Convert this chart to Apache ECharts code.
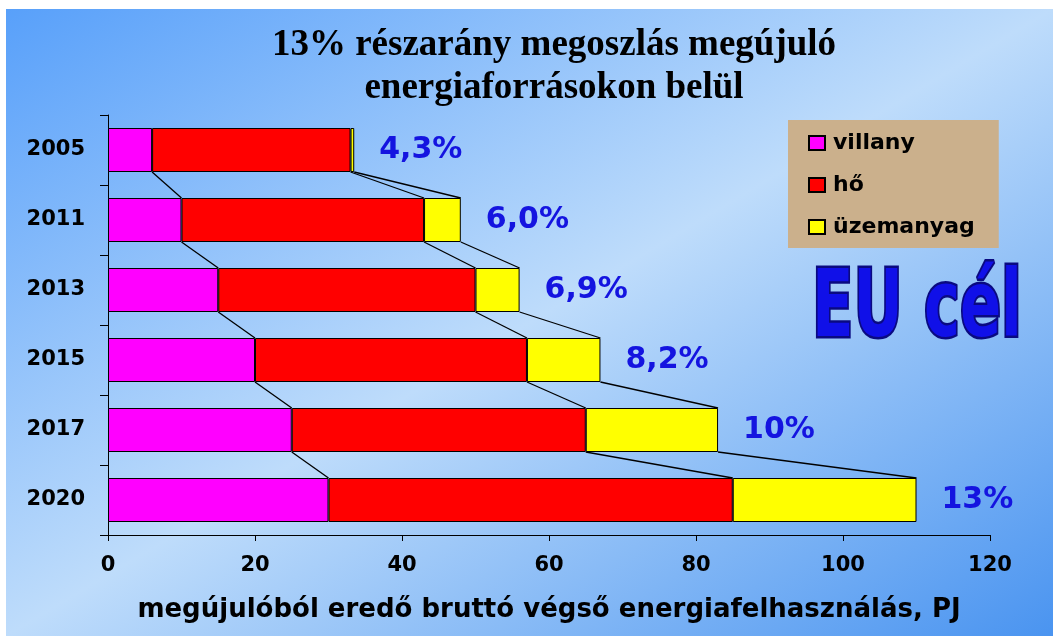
<!DOCTYPE html>
<html>
<head>
<meta charset="utf-8">
<title>13% részarány megoszlás</title>
<script src="https://cdn.jsdelivr.net/npm/echarts@6/dist/echarts.min.js"></script>
<style>
  html, body { margin: 0; padding: 0; background: #fff; }
  #bg {
    position: absolute; left: 6px; top: 9px; width: 1047px; height: 627px;
    background: linear-gradient(to bottom right, #58a0fa 0%, #bedcfb 50%, #4a94f0 100%);
  }
  #chart { position: absolute; left: 0; top: 0; width: 1053px; height: 636px; }
</style>
</head>
<body>
<div id="bg"></div>
<div id="chart"></div>
<script>
// évek (felülről lefelé)
const years = ["2005", "2011", "2013", "2015", "2017", "2020"];
// PJ értékek
const villany = [6, 10, 15, 20, 25, 30];
const ho = [27, 33, 35, 37, 40, 55];
const uzemanyag = [0.5, 5, 6, 10, 18, 25];
// részarány címkék
const pct = ["4,3%", "6,0%", "6,9%", "8,2%", "10%", "13%"];
const xTicks = [0, 20, 40, 60, 80, 100, 120];

const barWidth = 44;
const fontSans = "DejaVu Sans";

// a sávok végeit összekötő vonalak (sorozatvonalak)
function cumulative(i) {
  return [villany[i], villany[i] + ho[i], villany[i] + ho[i] + uzemanyag[i]];
}

function renderSeriesLines(params, api) {
  const i = params.dataIndex;
  if (i >= years.length - 1) return null;
  const a = cumulative(i);
  const b = cumulative(i + 1);
  const children = [];
  for (let k = 0; k < 3; k++) {
    const p1 = api.coord([a[k], i]);
    const p2 = api.coord([b[k], i + 1]);
    children.push({
      type: "line",
      shape: {
        x1: p1[0], y1: p1[1] + barWidth / 2,
        x2: p2[0], y2: p2[1] - barWidth / 2,
      },
      style: { stroke: "#000", lineWidth: 1.3 },
    });
  }
  return { type: "group", children };
}

const chart = echarts.init(document.getElementById("chart"));

const option = {
  backgroundColor: "transparent",
  title: {
    text: "13% részarány megoszlás megújuló\nenergiaforrásokon belül",
    left: 549,
    textAlign: "center",
    top: 19,
    textStyle: {
      fontFamily: "Liberation Serif",
      fontWeight: "bold",
      fontSize: 37,
      lineHeight: 43,
      color: "#000",
    },
  },
  legend: {
    data: ["villany", "hő", "üzemanyag"],
    orient: "vertical",
    left: 788,
    top: 120,
    padding: [12, 24, 10, 20],
    itemGap: 20,
    itemWidth: 16,
    itemHeight: 14,
    icon: "rect",
    backgroundColor: "#cbb08c",
    textStyle: {
      fontFamily: fontSans,
      fontWeight: "bold",
      fontSize: 22,
      color: "#000",
      padding: [0, 0, 0, 3],
    },
  },
  grid: { left: 108, right: 63, top: 115, bottom: 101, containLabel: false },
  xAxis: {
    type: "value",
    min: xTicks[0],
    max: xTicks[xTicks.length - 1],
    interval: 20,
    splitLine: { show: false },
    axisLine: { show: true, lineStyle: { color: "#000", width: 1 } },
    axisTick: { show: true, length: 6, lineStyle: { color: "#000" } },
    axisLabel: {
      margin: 20,
      fontFamily: fontSans,
      fontWeight: "bold",
      fontSize: 21,
      color: "#000",
    },
    name: "megújulóból eredő bruttó végső energiafelhasználás, PJ",
    nameLocation: "middle",
    nameGap: 62,
    nameTextStyle: {
      fontFamily: fontSans,
      fontWeight: "bold",
      fontSize: 26,
      color: "#000",
    },
  },
  yAxis: {
    type: "category",
    data: years,
    inverse: true,
    axisLine: { show: true, lineStyle: { color: "#000", width: 1 } },
    axisTick: { show: true, length: 8, lineStyle: { color: "#000" } },
    axisLabel: {
      margin: 23,
      fontFamily: fontSans,
      fontWeight: "bold",
      fontSize: 21,
      color: "#000",
    },
  },
  series: [
    {
      name: "villany",
      type: "bar",
      stack: "total",
      barWidth: barWidth,
      data: villany,
      itemStyle: { color: "#ff00ff", borderColor: "#000", borderWidth: 1 },
    },
    {
      name: "hő",
      type: "bar",
      stack: "total",
      barWidth: barWidth,
      data: ho,
      itemStyle: { color: "#ff0000", borderColor: "#000", borderWidth: 1 },
    },
    {
      name: "üzemanyag",
      type: "bar",
      stack: "total",
      barWidth: barWidth,
      data: uzemanyag,
      itemStyle: { color: "#ffff00", borderColor: "#000", borderWidth: 1 },
      label: {
        show: true,
        position: "right",
        distance: 25,
        formatter: (p) => pct[p.dataIndex],
        fontFamily: fontSans,
        fontWeight: "bold",
        fontSize: 30,
        color: "#1414e0",
      },
    },
    {
      name: "sorozatvonal",
      type: "custom",
      renderItem: renderSeriesLines,
      data: years.map((y, i) => [0, i]),
      encode: { x: 0, y: 1 },
      silent: true,
      z: 1,
    },
  ],
  graphic: [
    {
      type: "text",
      x: 812,
      y: 312,
      scaleX: 0.66,
      style: {
        text: "EU cél",
        x: 0,
        y: 0,
        textAlign: "left",
        textVerticalAlign: "middle",
        fontFamily: fontSans,
        fontWeight: "bold",
        fontSize: 92,
        fill: "#1010e8",
        stroke: "#0a0a80",
        lineWidth: 5,
        textShadowColor: "#00002a",
        textShadowOffsetX: 2,
        textShadowOffsetY: 3,
      },
    },
  ],
};

chart.setOption(option);
</script>
</body>
</html>
